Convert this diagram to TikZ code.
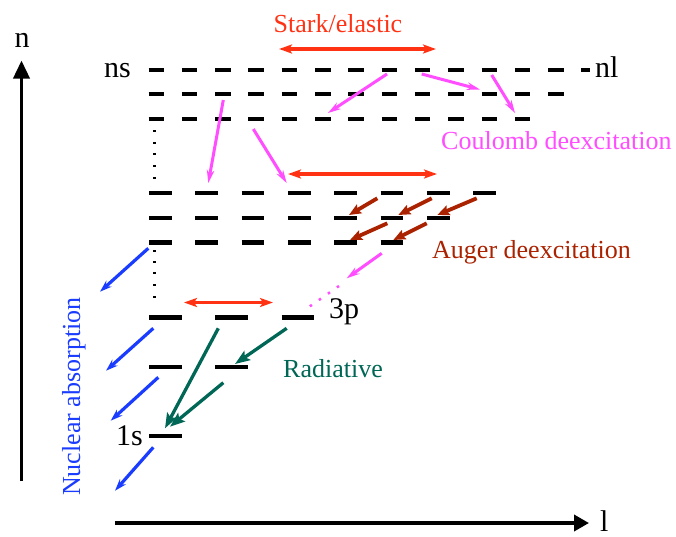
\documentclass[tikz,border=0pt]{standalone}
\usepackage{fontspec}
\setmainfont{Liberation Serif}
\usetikzlibrary{arrows.meta}
\definecolor{cstark}{RGB}{255,50,20}
\definecolor{cmag}{RGB}{255,77,255}
\definecolor{cauger}{RGB}{170,34,0}
\definecolor{crad}{RGB}{0,102,85}
\definecolor{cblue}{RGB}{26,60,255}
\tikzset{
  lvlA/.style={line width=4pt, black},
  lvlB/.style={line width=4.2pt, black},
  lbl/.style={inner sep=0pt, anchor=base west, font=\fontsize{26}{30}\selectfont},
  biglbl/.style={inner sep=0pt, anchor=base west, font=\fontsize{30}{34}\selectfont},
  axisline/.style={line width=3.6pt, black},
  stark/.style={draw=cstark, line width=3.8pt, {Stealth[length=13pt,width=9pt,inset=3pt]}-{Stealth[length=13pt,width=9pt,inset=3pt]}},
  coul/.style={draw=cmag, line width=3pt, -{Stealth[length=13pt,width=7.5pt]}},
  auger/.style={draw=cauger, line width=3.8pt, -{Stealth[length=12pt,width=10pt,inset=2pt]}},
  radi/.style={draw=crad, line width=3.3pt, -{Stealth[length=15pt,width=11pt,inset=3pt]}},
  nucl/.style={draw=cblue, line width=3.2pt, -{Stealth[length=12pt,width=8pt]}},
}
\begin{document}
\begin{tikzpicture}[x=1pt,y=-1pt]
\useasboundingbox (0,0) rectangle (676,536);
% levels
\foreach \k in {0,...,12} \draw[lvlA] ({148.5+33.3*\k},69.5) -- ++(15.5,0);
\draw[lvlA] (581.4,69.5) -- (590,69.5);
\foreach \k in {0,...,12} \draw[lvlA] ({148.5+33.3*\k},94) -- ++(15.5,0);
\foreach \k in {0,...,11} \draw[lvlA] ({148.5+33.3*\k},119) -- ++(15.5,0);
\foreach \k in {0,...,7} \draw[lvlB] ({149+46.33*\k},193) -- ++(22.7,0);
\foreach \k in {0,...,6} \draw[lvlB] ({149+46.33*\k},218) -- ++(22.7,0);
\foreach \k in {0,...,5} \draw[lvlB] ({149+46.33*\k},242.5) -- ++(22.7,0);
\foreach \k in {0,1,2} \draw[lvlB] ({149+66.3*\k},317.5) -- ++(32.7,0);
\foreach \k in {0,1} \draw[lvlB] ({149+66.3*\k},367) -- ++(32.7,0);
\draw[lvlB] (149,436) -- ++(32.7,0);
% dots
\foreach \yy in {131,142.7,154.3,166,177.7,250.7,261.7,273.3,285,296.7}
  \fill (153,{\yy-1.1}) rectangle (155.8,{\yy+1.1});
% axes
\coordinate (yb) at (21.5,481);
\coordinate (yt) at (21.5,60.5);
\coordinate (xb) at (115,523);
\coordinate (xt) at (589,523);
\draw[axisline, -{Triangle[length=18pt,width=16pt]}] (yb) -- (yt);
\draw[axisline, -{Triangle[length=15pt,width=16pt]}] (xb) -- (xt);
\node[biglbl] (ln) at (14.5,47) {n};
\node[biglbl] (ll) at (600,531.5) {l};
\node[biglbl] (lns) at (104,77) {ns};
\node[biglbl] (lnl) at (595,77) {nl};
\node[biglbl] (l3p) at (329,318.5) {3p};
\node[biglbl] (l1s) at (116,445) {1s};
% Stark
\coordinate (s1a) at (279,49); \coordinate (s1b) at (436,49);
\coordinate (s2a) at (288,174); \coordinate (s2b) at (437,174);
\coordinate (s3a) at (184,302.5); \coordinate (s3b) at (273,302.5);
\draw[stark] (s1a) -- (s1b);
\draw[stark] (s2a) -- (s2b);
\draw[stark] (s3a) -- (s3b);
\node[lbl, anchor=base, text=cstark] (tstark) at (338,32) {Stark/elastic};
% Coulomb
\coordinate (c1a) at (223.3,100); \coordinate (c1b) at (208.3,183);
\coordinate (c2a) at (253.3,129); \coordinate (c2b) at (286.7,183);
\coordinate (c3a) at (387,74); \coordinate (c3b) at (328,113);
\coordinate (c4a) at (421.7,74); \coordinate (c4b) at (480,89.5);
\coordinate (c5a) at (491.7,75); \coordinate (c5b) at (515,113);
\coordinate (c6a) at (381.7,253.3); \coordinate (c6b) at (346.7,278.3);
\coordinate (c6c) at (339,286); \coordinate (c6d) at (306,309);
\foreach \a/\b in {c1a/c1b,c2a/c2b,c3a/c3b,c4a/c4b,c5a/c5b,c6a/c6b}
  \draw[coul] (\a) -- (\b);
\draw[cmag, line width=2.5pt, dash pattern=on 2.5pt off 8.5pt] (c6c) -- (c6d);
\node[lbl, text=cmag] (tcoul) at (441,149) {Coulomb deexcitation};
% Auger
\coordinate (a1a) at (377.3,198.3); \coordinate (a1b) at (349,215);
\coordinate (a2a) at (431.7,198.3); \coordinate (a2b) at (398.3,215);
\coordinate (a3a) at (476.7,198.3); \coordinate (a3b) at (437.3,215);
\coordinate (a4a) at (387.3,223.3); \coordinate (a4b) at (350,240);
\coordinate (a5a) at (426.7,223.3); \coordinate (a5b) at (393.3,240);
\foreach \a/\b in {a1a/a1b,a2a/a2b,a3a/a3b,a4a/a4b,a5a/a5b}
  \draw[auger] (\a) -- (\b);
\node[lbl, text=cauger] (taug) at (432,258) {Auger deexcitation};
% Radiative
\coordinate (r1a) at (218.3,328.3); \coordinate (r1b) at (165,428.3);
\coordinate (r2a) at (286.7,328.3); \coordinate (r2b) at (235,364);
\coordinate (r3a) at (223.3,382.7); \coordinate (r3b) at (170,426.7);
\foreach \a/\b in {r1a/r1b,r2a/r2b,r3a/r3b}
  \draw[radi] (\a) -- (\b);
\node[lbl, text=crad] (trad) at (283,377) {Radiative};
% Nuclear absorption
\coordinate (n1a) at (148.3,248.3); \coordinate (n1b) at (100,291.7);
\coordinate (n2a) at (153.3,328.3); \coordinate (n2b) at (106,370.7);
\coordinate (n3a) at (158.3,377.3); \coordinate (n3b) at (110.7,420.7);
\coordinate (n4a) at (153.3,447.3); \coordinate (n4b) at (115,490.7);
\foreach \a/\b in {n1a/n1b,n2a/n2b,n3a/n3b,n4a/n4b}
  \draw[nucl] (\a) -- (\b);
\node[lbl, text=cblue, rotate=90] (tnuc) at (80,496) {Nuclear absorption};
\end{tikzpicture}
\end{document}
